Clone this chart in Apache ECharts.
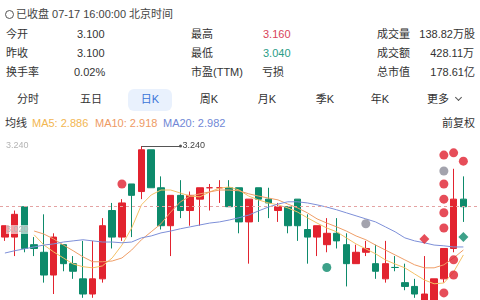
<!DOCTYPE html>
<html>
<head>
<meta charset="utf-8">
<script src="https://cdn.jsdelivr.net/npm/echarts@6.0.0/dist/echarts.min.js"></script>
<style>
  html, body { margin: 0; padding: 0; width: 480px; height: 300px; overflow: hidden; background: #fff; }
  body { font-family: "Liberation Sans", "Noto Sans CJK SC", sans-serif; color: #333; position: relative; }
  .t { position: absolute; font-size: 11px; line-height: 14px; white-space: nowrap; }
  .r { text-align: right; }
  .tab { position: absolute; width: 50px; text-align: center; font-size: 11px; line-height: 14px; top: 92px; color: #333; }
  #chart { position: absolute; left: 0; top: 130px; width: 480px; height: 190px; }
</style>
</head>
<body>
<span style="position:absolute;left:5px;top:10px;width:7px;height:7px;border:1px solid #555;border-radius:50%"></span>
<span class="t" style="left:16px;top:7px;color:#444">已收盘 07-17 16:00:00 北京时间</span>

<span class="t" style="left:6px;top:27px">今开</span>
<span class="t" style="left:77px;top:27px">3.100</span>
<span class="t" style="left:191px;top:27px">最高</span>
<span class="t" style="left:263px;top:27px;color:#d8445a">3.160</span>
<span class="t" style="left:377px;top:27px">成交量</span>
<span class="t r" style="right:5px;top:27px">138.82万股</span>

<span class="t" style="left:6px;top:46px">昨收</span>
<span class="t" style="left:77px;top:46px">3.100</span>
<span class="t" style="left:191px;top:46px">最低</span>
<span class="t" style="left:263px;top:46px;color:#2a9d86">3.040</span>
<span class="t" style="left:377px;top:46px">成交额</span>
<span class="t r" style="right:6px;top:46px">428.11万</span>

<span class="t" style="left:6px;top:65px">换手率</span>
<span class="t" style="left:74px;top:65px">0.02%</span>
<span class="t" style="left:191px;top:65px">市盈(TTM)</span>
<span class="t" style="left:262px;top:65px">亏损</span>
<span class="t" style="left:377px;top:65px">总市值</span>
<span class="t r" style="right:5px;top:65px">178.61亿</span>

<span style="position:absolute;left:128px;top:89px;width:44px;height:22px;border-radius:6px;background:#e9f1fd"></span>
<span class="tab" style="left:3px">分时</span>
<span class="tab" style="left:66px">五日</span>
<span class="tab" style="left:125px;color:#3b74d8">日K</span>
<span class="tab" style="left:184px">周K</span>
<span class="tab" style="left:242px">月K</span>
<span class="tab" style="left:300px">季K</span>
<span class="tab" style="left:355px">年K</span>
<span class="tab" style="left:413px">更多</span>
<span style="position:absolute;left:456px;top:95px;width:4px;height:4px;border-right:1px solid #555;border-bottom:1px solid #555;transform:rotate(45deg)"></span>

<span class="t" style="left:5px;top:116px">均线</span>
<span class="t" style="left:32px;top:116px;color:#f2b650">MA5: 2.886</span>
<span class="t" style="left:95px;top:116px;color:#ee9a64">MA10: 2.918</span>
<span class="t" style="left:163px;top:116px;color:#7188d6">MA20: 2.982</span>
<span class="t r" style="right:5px;top:116px">前复权</span>

<div id="chart"></div>
<script>
// 日K: [开, 收, 低, 高]
const opens  = [3.00,3.00,3.08,2.98,2.96,2.90,2.98,2.93,2.89,2.85,2.89,3.07,3.00,3.14,3.12,3.23,3.13,3.03,3.11,3.07,3.10,3.13,3.13,3.13,3.13,3.04,3.13,3.10,3.07,3.08,3.10,3.02,3.00,2.98,3.01,2.98,2.93,2.96,2.93,2.89,2.92,2.88,2.87,2.82,2.82,2.89,2.97,3.10];
const closes = [3.03,3.06,2.97,2.97,2.90,3.00,2.93,2.91,2.85,2.89,3.03,3.00,3.09,3.11,3.23,3.13,3.03,3.11,3.07,3.11,3.13,3.13,3.13,3.08,3.04,3.10,3.10,3.09,3.08,3.03,3.03,3.00,3.03,3.01,2.99,2.93,2.96,2.97,2.91,2.93,2.92,2.87,2.85,2.85,2.89,2.97,3.10,3.08];
const lows   = [2.99,2.95,2.96,2.95,2.88,2.85,2.91,2.89,2.84,2.84,2.88,2.97,2.99,3.00,3.10,3.13,3.02,2.95,3.05,3.03,3.03,3.07,3.09,3.08,3.01,2.93,3.04,3.05,3.04,3.01,2.99,2.93,2.95,2.96,2.97,2.87,2.93,2.95,2.89,2.88,2.91,2.86,2.84,2.80,2.80,2.88,2.96,3.04];
const highs  = [3.03,3.07,3.08,3.00,3.06,3.01,2.98,2.95,2.99,2.99,3.05,3.09,3.10,3.14,3.24,3.23,3.16,3.11,3.15,3.12,3.13,3.14,3.15,3.15,3.13,3.10,3.13,3.13,3.09,3.08,3.10,3.06,3.03,3.05,3.05,3.01,2.98,2.99,2.98,2.99,2.95,2.93,2.89,2.95,2.89,2.97,3.18,3.16];

const ma5  = ['-','-','-',3.006,2.979,2.961,2.945,2.929,2.922,2.919,2.924,2.945,2.979,3.024,3.085,3.111,3.124,3.124,3.116,3.108,3.106,3.119,3.129,3.132,3.124,3.108,3.098,3.090,3.085,3.077,3.066,3.051,3.037,3.024,3.014,2.998,2.982,2.969,2.956,2.940,2.929,2.919,2.903,2.887,2.877,2.879,2.908,2.953];
const ma10 = ['-','-','-',3.016,3.008,2.995,2.979,2.964,2.948,2.935,2.935,2.937,2.945,2.966,2.993,3.014,3.035,3.066,3.093,3.108,3.114,3.119,3.124,3.124,3.122,3.114,3.108,3.103,3.098,3.087,3.077,3.064,3.048,3.037,3.027,3.016,3.003,2.993,2.979,2.966,2.953,2.940,2.927,2.919,2.919,2.927,2.945,2.966];
const ma20 = [2.958,2.964,2.969,2.974,2.979,2.982,2.987,2.990,2.993,2.990,2.987,2.987,2.985,2.987,2.998,3.003,3.011,3.016,3.022,3.027,3.032,3.037,3.040,3.045,3.051,3.058,3.069,3.079,3.087,3.093,3.093,3.090,3.085,3.079,3.072,3.064,3.056,3.048,3.040,3.027,3.014,2.998,2.990,2.985,2.979,2.977,2.974,2.974];

// 信号点 [K线序号, 价格]
const redDots = [[12,3.14],[45,3.216],[45,3.14],[45,3.10],[45,3.064],[45,3.024],[45,2.853],[46,3.222],[46,2.94],[46,2.90],[47,3.20]];
const grayDots = [[37,3.035],[45,3.174]];
const greenDots = [[33,2.92]];
const redDiamonds = [[43,2.995]];
const greenDiamonds = [[47,3.00]];

const highMark = 3.24;
const lastClose = 3.08;
const axisLabels = [3.02, 3.24];

const UP = '#e2232f', DOWN = '#0d8a6b';

let days = [];
for (let i = 0; i < 49; i++) days.push(String(i + 1));
let kdata = opens.map((o, i) => [o, closes[i], lows[i], highs[i]]);

let myChart = echarts.init(document.getElementById('chart'));
let option = {
  animation: false,
  grid: { left: -1, right: 2, top: 16, bottom: 7 },
  xAxis: {
    type: 'category', data: days,
    axisLine: { show: false }, axisTick: { show: false }, axisLabel: { show: false }, splitLine: { show: false }
  },
  yAxis: {
    type: 'value', min: 2.80, max: 3.24, position: 'left', z: 10,
    axisLine: { show: false }, axisTick: { show: false }, splitLine: { show: false },
    axisLabel: {
      inside: true, margin: 6, color: '#b4b4b4', fontSize: 9,
      backgroundColor: 'rgba(255,255,255,0.6)',
      customValues: axisLabels,
      formatter: v => v.toFixed(3)
    }
  },
  series: [
    {
      type: 'candlestick', data: kdata, barWidth: 7,
      itemStyle: { color: UP, color0: DOWN, borderColor: UP, borderColor0: DOWN, borderWidth: 1 },
      markLine: {
        silent: true, animation: false, symbol: ['none', 'none'],
        data: [
          [{ coord: [14, highMark] },
           { coord: [18, highMark], symbol: 'circle', symbolSize: 3,
             label: { show: true, position: 'end', formatter: highMark.toFixed(3), color: '#444', fontSize: 9, distance: 2 } }],
          { yAxis: lastClose, label: { show: false },
            lineStyle: { type: [3, 3], color: '#e4a3a3', width: 1 } }
        ],
        lineStyle: { color: '#555', width: 1, type: 'solid' }
      }
    },
    { type: 'line', data: ma5, symbol: 'none', lineStyle: { width: 1, color: '#f4c165' }, z: 3 },
    { type: 'line', data: ma10, symbol: 'none', lineStyle: { width: 1, color: '#ef9d66' }, z: 3 },
    { type: 'line', data: ma20, symbol: 'none', lineStyle: { width: 1, color: '#7d8fd8' }, z: 3 },
    { type: 'scatter', data: redDots, symbol: 'circle', symbolSize: 9, itemStyle: { color: '#e0212f' }, z: 5 },
    { type: 'scatter', data: grayDots, symbol: 'circle', symbolSize: 9, itemStyle: { color: '#8c8c98' }, z: 5 },
    { type: 'scatter', data: greenDots, symbol: 'circle', symbolSize: 9, itemStyle: { color: '#0d8a6b' }, z: 5 },
    { type: 'scatter', data: redDiamonds, symbol: 'diamond', symbolSize: 10, itemStyle: { color: '#e0212f' }, z: 5 },
    { type: 'scatter', data: greenDiamonds, symbol: 'diamond', symbolSize: 10, itemStyle: { color: '#0d8a6b' }, z: 5 }
  ]
};
myChart.setOption(option);
</script>
</body>
</html>
